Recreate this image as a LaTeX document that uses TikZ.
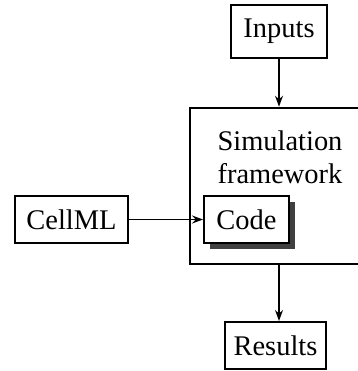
\documentclass[tikz,border=0pt]{standalone}
\usepackage{fontspec}
\setmainfont{Liberation Serif}
\usetikzlibrary{arrows.meta,shadows}

\begin{document}
\begin{tikzpicture}[x=0.457pt, y=-0.457pt,
    font=\fontsize{13}{15}\selectfont,
    box/.style={rectangle, draw, line width=0.9pt, fill=white, inner sep=0pt, minimum height=21.5pt},
    flow/.style={-{Stealth[length=5pt,width=3.6pt]}, line width=0.8pt}]
    \useasboundingbox (0,0) rectangle (357,371);
    % the framework that holds the generated code (runs off the right side)
    \node[rectangle, draw, line width=1.15pt, minimum width=84.5pt, minimum height=71.3pt] (frame) at (282.5,186) {};
    \node[align=center] (title) at (280,157) {Simulation\\framework};
    \node[box, minimum width=43.9pt, minimum height=24.2pt] (inputs) at (279,31.5) {Inputs};
    \node[box, minimum width=51.6pt] (cellml) at (71.5,219.5) {CellML};
    \node[box, minimum width=38.8pt, drop shadow={shadow xshift=2.8pt, shadow yshift=-2.8pt, fill=black!75, opacity=1}] (code) at (246.5,219.5) {Code};
    \node[box, minimum width=46.2pt] (results) at (275.5,345.5) {Results};
    \draw[flow] (inputs.south) -- (inputs.south |- frame.north);
    \draw[flow] (cellml.east) -- (code.west);
    \draw[flow] (inputs.south |- frame.south) -- (inputs.south |- results.north);
\end{tikzpicture}
\end{document}
